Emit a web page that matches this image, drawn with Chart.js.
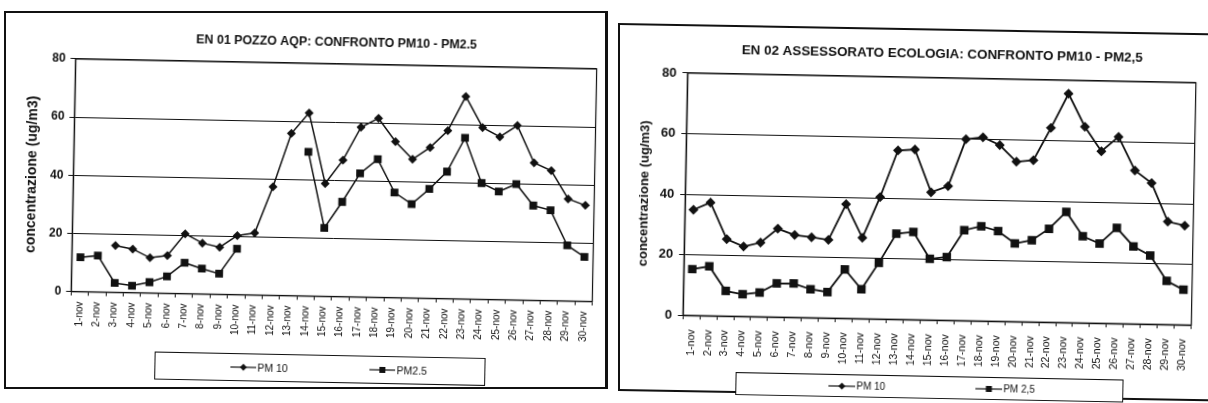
<!DOCTYPE html>
<html lang="it">
<head>
<meta charset="utf-8">
<title>Confronto PM10 - PM2.5</title>
<script src="https://cdn.jsdelivr.net/npm/chart.js@4.4.1/dist/chart.umd.min.js"></script>
<style>
    html, body { margin: 0; padding: 0; background: #fff; }
    body { width: 1208px; height: 403px; position: relative; overflow: hidden; font-family: "Liberation Sans", Arial, sans-serif; color: #111; }
    .cornice { position: absolute; border: 2px solid #111; box-sizing: border-box; }
    #cornice1 { left: 4px; top: 11px; width: 604px; height: 378px; border-right-width: 3px; }
    #cornice2 { left: 618px; top: 23px; width: 620px; height: 368px; transform-origin: 0 0; transform: skewY(1deg); }
    .grafico { position: absolute; top: 0; height: 403px; }
    /* la scansione e' leggermente ruotata */
    #g1 { left: 0; width: 604px; transform-origin: 335.3px 180.2px; transform: rotate(1.1deg); }
    #g2 { left: 612px; width: 596px; transform-origin: 328.7px 199.2px; transform: rotate(1.1deg); }
    .legenda { position: absolute; border: 1px solid #111; box-sizing: border-box; display: flex; align-items: center; background: #fff; }
    .voce { display: flex; align-items: center; white-space: nowrap; }
    .voce canvas { margin-right: 1px; }
    #leg1 { left: 158px; top: 355px; width: 331px; height: 28px; font-size: 10.5px; padding-left: 75px; gap: 82px; }
    #leg2 { left: 127px; top: 376px; width: 388px; height: 23px; font-size: 10px; padding-left: 92px; gap: 90px; }
</style>
</head>
<body>
<div class="cornice" id="cornice1"></div>
<div class="cornice" id="cornice2"></div>

<div class="grafico" id="g1">
    <canvas id="grafico1" width="604" height="403"></canvas>
    <div class="legenda" id="leg1"></div>
</div>
<div class="grafico" id="g2">
    <canvas id="grafico2" width="596" height="403"></canvas>
    <div class="legenda" id="leg2"></div>
</div>

<script>
// giorni di novembre
const giorni = ['1-nov', '2-nov', '3-nov', '4-nov', '5-nov', '6-nov', '7-nov', '8-nov', '9-nov', '10-nov',
    '11-nov', '12-nov', '13-nov', '14-nov', '15-nov', '16-nov', '17-nov', '18-nov', '19-nov', '20-nov',
    '21-nov', '22-nov', '23-nov', '24-nov', '25-nov', '26-nov', '27-nov', '28-nov', '29-nov', '30-nov'];

// EN 01 POZZO AQP (ug/m3)
const en01Pm10 = [null, null, 16.1, 15.0, 12.1, 13.0, 20.6, 17.5, 16.2, 20.3,
    21.3, 37.3, 55.8, 63.0, 38.8, 47.0, 58.4, 61.6, 53.7, 47.7,
    51.9, 57.8, 69.7, 59.1, 56.0, 60.0, 47.3, 44.7, 35.1, 33.0];
const en01Pm25 = [11.8, 12.5, 3.2, 2.4, 3.7, 5.8, 10.6, 8.7, 7.1, 15.8,
    null, null, null, 49.6, 23.5, 32.6, 42.5, 47.5, 36.2, 32.3,
    37.6, 43.7, 55.4, 40.0, 37.2, 39.9, 32.6, 31.1, 19.1, 15.3];

// EN 02 ASSESSORATO ECOLOGIA (ug/m3)
const en02Pm10 = [34.9, 37.4, 25.4, 23.1, 24.5, 29.2, 27.2, 26.6, 25.8, 37.7,
    26.7, 40.3, 55.8, 56.2, 42.2, 44.3, 59.9, 60.7, 58.2, 52.8,
    53.4, 64.2, 75.6, 64.8, 56.8, 61.7, 50.7, 46.6, 34.0, 32.8];
const en02Pm25 = [15.3, 16.3, 8.3, 7.3, 8.0, 11.1, 11.2, 9.4, 8.6, 16.2,
    9.7, 18.6, 28.3, 29.0, 20.2, 20.9, 29.9, 31.3, 29.8, 25.8,
    27.0, 30.9, 36.6, 28.6, 26.3, 31.6, 25.6, 22.7, 14.4, 11.6];

const tickY = [0, 20, 40, 60, 80];

const NERO = '#111';
const FONT = '"Liberation Sans", Arial, sans-serif';

// bordo attorno all'area del grafico
const cornicePlot = {
    id: 'cornicePlot',
    beforeDatasetsDraw(chart) {
        const { ctx, chartArea: a } = chart;
        ctx.save();
        ctx.strokeStyle = NERO;
        ctx.lineWidth = 1.2;
        ctx.strokeRect(a.left, a.top, a.right - a.left, a.bottom - a.top);
        ctx.restore();
    }
};

function creaGrafico(idCanvas, titolo, serie, g) {
    return new Chart(document.getElementById(idCanvas), {
        type: 'line',
        data: {
            labels: giorni,
            datasets: serie.map(s => ({
                label: s.nome,
                data: s.valori,
                borderColor: NERO,
                backgroundColor: NERO,
                borderWidth: g.linea,
                pointStyle: s.punto,
                pointRadius: s.raggio,
                pointBorderWidth: 0,
                pointBackgroundColor: NERO,
                tension: 0,
                fill: false,
                spanGaps: false
            }))
        },
        plugins: [cornicePlot],
        options: {
            responsive: false,
            animation: false,
            layout: { padding: { left: 8, right: g.destra, top: 0, bottom: g.sotto } },
            plugins: {
                legend: { display: false },
                tooltip: { enabled: false },
                title: {
                    display: true,
                    text: titolo,
                    fullSize: false,
                    color: NERO,
                    font: { family: FONT, size: g.fTitolo, weight: 'bold' },
                    padding: { top: g.tTop, bottom: g.tBottom }
                }
            },
            scales: {
                x: {
                    offset: true,
                    grid: { offset: true, drawOnChartArea: false, tickLength: 4, color: NERO },
                    border: { color: NERO, width: 1.2 },
                    ticks: {
                        autoSkip: false, minRotation: 90, maxRotation: 90,
                        padding: g.padX, color: NERO,
                        font: { family: FONT, size: g.fX }
                    },
                    afterFit: (scale) => { scale.height = g.altX; }
                },
                y: {
                    min: tickY[0],
                    max: tickY[tickY.length - 1],
                    grid: { color: NERO, lineWidth: 1, tickLength: 5 },
                    border: { color: NERO, width: 1.2 },
                    ticks: {
                        stepSize: tickY[1] - tickY[0],
                        padding: g.padY, color: NERO,
                        font: { family: FONT, size: g.fY, weight: 'bold' }
                    },
                    title: {
                        display: true,
                        text: 'concentrazione (ug/m3)',
                        color: NERO,
                        font: { family: FONT, size: g.fTitoloY, weight: 'bold' },
                        padding: { top: g.padTitoloY, bottom: 0 }
                    },
                    afterFit: (scale) => { scale.width = g.largY; }
                }
            }
        }
    });
}

// legenda html con linea e simbolo
function creaLegenda(chart, idLegenda, larghezzaSegno) {
    const box = document.getElementById(idLegenda);
    chart.data.datasets.forEach(ds => {
        const voce = document.createElement('span');
        voce.className = 'voce';
        const c = document.createElement('canvas');
        c.width = larghezzaSegno;
        c.height = 10;
        const k = c.getContext('2d');
        k.strokeStyle = NERO;
        k.fillStyle = NERO;
        k.lineWidth = 1.2;
        k.beginPath();
        k.moveTo(0, 5);
        k.lineTo(c.width, 5);
        k.stroke();
        const m = c.width / 2;
        if (ds.pointStyle === 'rectRot') {
            k.beginPath();
            k.moveTo(m, 1.5); k.lineTo(m + 3.5, 5); k.lineTo(m, 8.5); k.lineTo(m - 3.5, 5);
            k.closePath();
            k.fill();
        } else {
            k.fillRect(m - 3, 2, 6, 6);
        }
        voce.appendChild(c);
        const t = document.createElement('span');
        t.textContent = ds.label;
        voce.appendChild(t);
        box.appendChild(voce);
    });
}

let grafico1 = creaGrafico('grafico1', 'EN 01 POZZO AQP: CONFRONTO PM10 - PM2.5', [
    { nome: 'PM 10', valori: en01Pm10, punto: 'rectRot', raggio: 4.5 },
    { nome: 'PM2.5', valori: en01Pm25, punto: 'rect', raggio: 5.5 }
], {
    linea: 1.5, destra: 6.7, sotto: 46.5, altX: 60, largY: 65.3,
    fTitolo: 12.4, tTop: 35, tBottom: 14.1,
    fX: 10, padX: 6, fY: 12, padY: 5, fTitoloY: 14, padTitoloY: 15.9
});
creaLegenda(grafico1, 'leg1', 26);

let grafico2 = creaGrafico('grafico2', 'EN 02 ASSESSORATO ECOLOGIA: CONFRONTO PM10 - PM2,5', [
    { nome: 'PM 10', valori: en02Pm10, punto: 'rectRot', raggio: 5 },
    { nome: 'PM 2,5', valori: en02Pm25, punto: 'rect', raggio: 6 }
], {
    linea: 1.8, destra: 11.8, sotto: 28.8, altX: 54, largY: 65.2,
    fTitolo: 13.4, tTop: 46.3, tBottom: 15.6,
    fX: 10.5, padX: 10, fY: 13, padY: 6, fTitoloY: 13, padTitoloY: 17.1
});
creaLegenda(grafico2, 'leg2', 27);
</script>
</body>
</html>
